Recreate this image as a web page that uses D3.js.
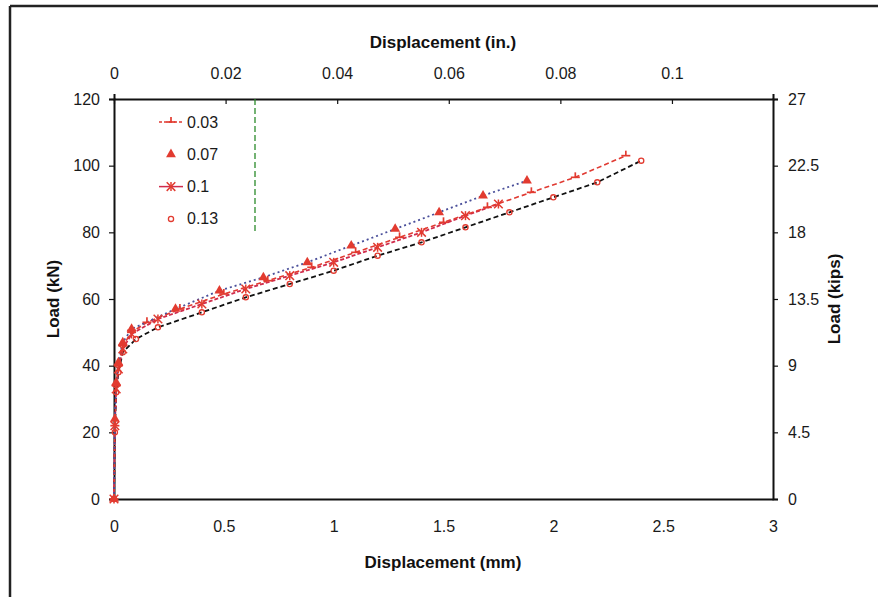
<!DOCTYPE html>
<html>
<head>
<meta charset="utf-8">
<script src="https://cdn.jsdelivr.net/npm/d3@7"></script>
<style>
  html, body { margin: 0; padding: 0; background: #fff; }
  svg { display: block; font-family: "Liberation Sans", Arial, sans-serif; }
</style>
</head>
<body>
<svg id="chart" width="878" height="597"></svg>
<script>
// ---- data (displacement in mm, load in kN) ----
const seriesNames = ["0.03", "0.07", "0.1", "0.13"];

const s003x = [0, 0.004, 0.01, 0.02, 0.04, 0.08, 0.15, 0.3, 0.5, 0.7, 0.9, 1.1, 1.3, 1.5, 1.7, 1.9, 2.1, 2.33];
const s003y = [0, 22, 34, 40, 46, 50, 53, 57, 61.5, 65.5, 69.5, 74, 78.5, 83, 87.5, 92, 96.5, 103];

const s007x = [0, 0.004, 0.01, 0.02, 0.04, 0.08, 0.28, 0.48, 0.68, 0.88, 1.08, 1.28, 1.48, 1.68, 1.88];
const s007y = [0, 24, 35, 41, 47, 51, 57, 62.5, 66.5, 71, 76, 81, 86, 91, 95.5];

const s01x = [0, 0.004, 0.01, 0.02, 0.04, 0.08, 0.2, 0.4, 0.6, 0.8, 1.0, 1.2, 1.4, 1.6, 1.75];
const s01y = [0, 22, 33, 39, 45, 49.5, 54, 58.5, 63, 67, 71, 75.5, 80, 85, 88.5];

const s013x = [0, 0.004, 0.01, 0.02, 0.04, 0.1, 0.2, 0.4, 0.6, 0.8, 1.0, 1.2, 1.4, 1.6, 1.8, 2.0, 2.2, 2.4];
const s013y = [0, 20, 32, 38, 44, 48, 51.5, 56, 60.5, 64.5, 68.5, 73, 77, 81.5, 86, 90.5, 95, 101.5];

const xTicksMM = [0, 0.5, 1, 1.5, 2, 2.5, 3];
const xTickLabelsMM = ["0", "0.5", "1", "1.5", "2", "2.5", "3"];
const xTicksIn = [0, 0.02, 0.04, 0.06, 0.08, 0.1];
const xTickLabelsIn = ["0", "0.02", "0.04", "0.06", "0.08", "0.1"];
const yTicksKN = [0, 20, 40, 60, 80, 100, 120];
const yTicksKips = [0, 4.5, 9, 13.5, 18, 22.5, 27];

// ---- layout ----
const svg = d3.select("#chart");
const L = 114, R = 773, T = 99, B = 499;

const x = d3.scaleLinear().domain([0, 3]).range([L, R]);
const xIn = d3.scaleLinear().domain([0, 3 / 25.4]).range([L, R]);
const y = d3.scaleLinear().domain([0, 120]).range([B, T]);
const yK = d3.scaleLinear().domain([0, 27]).range([B, T]);

// outer frame
svg.append("line").attr("x1", 10).attr("y1", 6).attr("x2", 878).attr("y2", 6)
  .attr("stroke", "#222").attr("stroke-width", 2.5);
svg.append("line").attr("x1", 10).attr("y1", 6).attr("x2", 10).attr("y2", 597)
  .attr("stroke", "#222").attr("stroke-width", 2.5);

// axes
const fontSize = 16;
function styleAxis(g) {
  g.selectAll("path.domain").attr("stroke", "#111").attr("stroke-width", 2);
  g.selectAll(".tick line").attr("stroke", "#111").attr("stroke-width", 1.2);
  g.selectAll(".tick text").attr("font-size", fontSize).attr("fill", "#1a1a1a")
    .attr("font-family", "Liberation Sans, Arial, sans-serif");
}

const gB = svg.append("g").attr("transform", `translate(0,${B})`)
  .call(d3.axisBottom(x).tickValues(xTicksMM).tickSize(0).tickPadding(22)
    .tickFormat((d, i) => xTickLabelsMM[i]));
styleAxis(gB);

const gT = svg.append("g").attr("transform", `translate(0,${T})`)
  .call(d3.axisTop(xIn).tickValues(xTicksIn).tickSize(5).tickPadding(15)
    .tickFormat((d, i) => xTickLabelsIn[i]));
styleAxis(gT);
gT.selectAll(".tick line").attr("y2", 5);

const gL = svg.append("g").attr("transform", `translate(${L},0)`)
  .call(d3.axisLeft(y).tickValues(yTicksKN).tickSize(5).tickPadding(9));
styleAxis(gL);

const gR = svg.append("g").attr("transform", `translate(${R},0)`)
  .call(d3.axisRight(yK).tickValues(yTicksKips).tickSize(5).tickPadding(10)
    .tickFormat(d3.format("~g")));
styleAxis(gR);

// axis titles
const titleSize = 17;
svg.append("text").attr("x", 443).attr("y", 48).attr("text-anchor", "middle")
  .attr("font-size", titleSize).attr("font-weight", "bold").attr("fill", "#111")
  .text("Displacement (in.)");
svg.append("text").attr("x", 443).attr("y", 568).attr("text-anchor", "middle")
  .attr("font-size", titleSize).attr("font-weight", "bold").attr("fill", "#111")
  .text("Displacement (mm)");
svg.append("text").attr("transform", `translate(59,${(T + B) / 2}) rotate(-90)`)
  .attr("text-anchor", "middle").attr("font-size", titleSize).attr("font-weight", "bold")
  .attr("fill", "#111").text("Load (kN)");
svg.append("text").attr("transform", `translate(840,${(T + B) / 2}) rotate(-90)`)
  .attr("text-anchor", "middle").attr("font-size", titleSize).attr("font-weight", "bold")
  .attr("fill", "#111").text("Load (kips)");

// green dashed legend edge
svg.append("line").attr("x1", 255).attr("x2", 255).attr("y1", T).attr("y2", 232)
  .attr("stroke", "#2a8a2a").attr("stroke-width", 1.3).attr("stroke-dasharray", "6,3");

// ---- series ----
const zip = (xs, ys) => xs.map((v, i) => [v, ys[i]]);
const line = d3.line().x(d => x(d[0])).y(d => y(d[1]));

const series = [
  { name: seriesNames[3], data: zip(s013x, s013y), stroke: "#111", dash: "5,3", width: 1.8, marker: "circle" },
  { name: seriesNames[2], data: zip(s01x, s01y), stroke: "#d02c4c", dash: "4,2", width: 1.8, marker: "asterisk" },
  { name: seriesNames[0], data: zip(s003x, s003y), stroke: "#e03a32", dash: "5,3", width: 1.6, marker: "tick" },
  { name: seriesNames[1], data: zip(s007x, s007y), stroke: "#4a4f9a", dash: "2,3", width: 1.8, marker: "triangle" }
];

const markerColor = "#e23b30";
function drawMarker(g, type, cx, cy) {
  if (type === "triangle") {
    g.append("path").attr("d", d3.symbol().type(d3.symbolTriangle).size(42)())
      .attr("transform", `translate(${cx},${cy})`).attr("fill", markerColor);
  } else if (type === "asterisk") {
    g.append("path").attr("d", d3.symbol().type(d3.symbolTimes).size(50)())
      .attr("transform", `translate(${cx},${cy})`).attr("fill", "none")
      .attr("stroke", markerColor).attr("stroke-width", 1.5);
    g.append("line").attr("x1", cx).attr("x2", cx).attr("y1", cy - 4.5).attr("y2", cy + 4.5)
      .attr("stroke", markerColor).attr("stroke-width", 1.5);
  } else if (type === "circle") {
    g.append("circle").attr("cx", cx).attr("cy", cy).attr("r", 2.6)
      .attr("fill", "none").attr("stroke", markerColor).attr("stroke-width", 1.3);
  } else if (type === "tick") {
    g.append("line").attr("x1", cx - 4.5).attr("x2", cx + 4.5).attr("y1", cy).attr("y2", cy)
      .attr("stroke", markerColor).attr("stroke-width", 1.7);
    g.append("line").attr("x1", cx).attr("x2", cx).attr("y1", cy - 5).attr("y2", cy)
      .attr("stroke", markerColor).attr("stroke-width", 1.7);
  }
}

const plot = svg.append("g");
series.forEach(s => {
  plot.append("path").datum(s.data).attr("d", line).attr("fill", "none")
    .attr("stroke", s.stroke).attr("stroke-width", s.width).attr("stroke-dasharray", s.dash);
});
series.forEach(s => {
  const g = plot.append("g");
  s.data.forEach((d, i) => {
    if (i === 0 || d[0] >= 0.004) drawMarker(g, s.marker, x(d[0]), y(d[1]));
  });
});

// ---- legend ----
const lg = svg.append("g");
const legendRows = [
  { name: seriesNames[0], marker: "tick", line: true, stroke: "#e03a32", dash: "3,2" },
  { name: seriesNames[1], marker: "triangle", line: false },
  { name: seriesNames[2], marker: "asterisk", line: true, stroke: "#d02c4c", dash: null },
  { name: seriesNames[3], marker: "circle", line: false }
];
legendRows.forEach((r, i) => {
  const cy = 122 + i * 32.3;
  const mx = 171;
  if (r.line) {
    lg.append("line").attr("x1", mx - 12).attr("x2", mx + 12).attr("y1", cy).attr("y2", cy)
      .attr("stroke", r.stroke).attr("stroke-width", 1.5)
      .attr("stroke-dasharray", r.dash);
  }
  drawMarker(lg, r.marker, mx, cy);
  lg.append("text").attr("x", 187).attr("y", cy + 5.5).attr("font-size", 16)
    .attr("fill", "#1a1a1a").text(r.name);
});
</script>
</body>
</html>
